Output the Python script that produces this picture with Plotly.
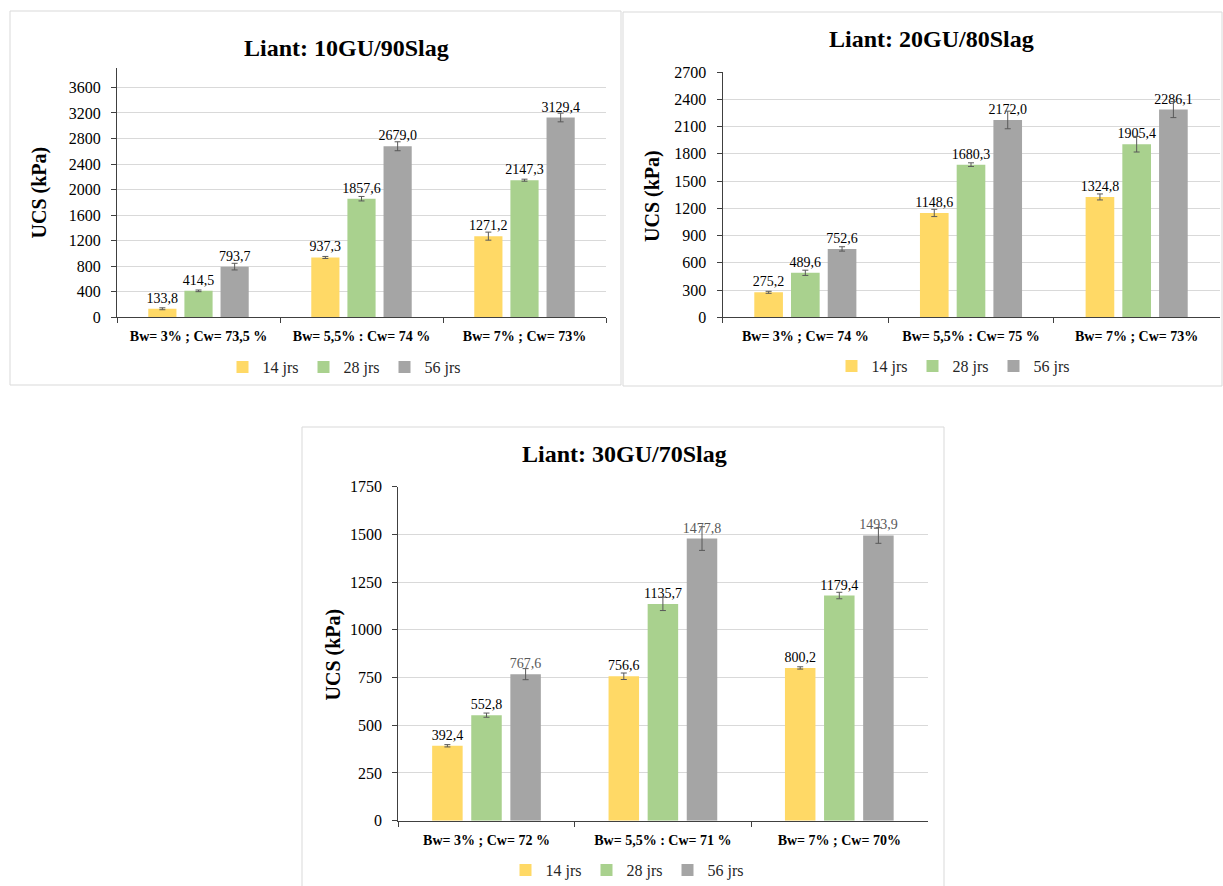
import plotly.graph_objects as go

W, H = 1223, 886

series_names = ["14 jrs", "28 jrs", "56 jrs"]
colors = ["#FFD966", "#A9D18E", "#A5A5A5"]

# Panel 1: Liant 10GU/90Slag
cats1 = ["Bw= 3% ; Cw= 73,5 %", "Bw= 5,5% : Cw= 74 %", "Bw= 7% ; Cw= 73%"]
p1_14 = [133.8, 937.3, 1271.2]
p1_28 = [414.5, 1857.6, 2147.3]
p1_56 = [793.7, 2679.0, 3129.4]
e1_14 = [15, 16, 63]
e1_28 = [13, 35, 16]
e1_56 = [52, 70, 68]

# Panel 2: Liant 20GU/80Slag
cats2 = ["Bw= 3% ; Cw= 74 %", "Bw= 5,5% : Cw= 75 %", "Bw= 7% ; Cw= 73%"]
p2_14 = [275.2, 1148.6, 1324.8]
p2_28 = [489.6, 1680.3, 1905.4]
p2_56 = [752.6, 2172.0, 2286.1]
e2_14 = [11, 40, 33]
e2_28 = [29, 20, 86]
e2_56 = [24, 97, 88]

# Panel 3: Liant 30GU/70Slag
cats3 = ["Bw= 3% ; Cw= 72 %", "Bw= 5,5% : Cw= 71 %", "Bw= 7% ; Cw= 70%"]
p3_14 = [392.4, 756.6, 800.2]
p3_28 = [552.8, 1135.7, 1179.4]
p3_56 = [767.6, 1477.8, 1493.9]
e3_14 = [6, 17, 6]
e3_28 = [11, 35, 17]
e3_56 = [29, 62, 41]

titles = ["Liant: 10GU/90Slag", "Liant: 20GU/80Slag", "Liant: 30GU/70Slag"]

FONT = "Liberation Serif"

panels = [
    dict(cats=cats1, vals=[p1_14, p1_28, p1_56], errs=[e1_14, e1_28, e1_56],
         xr=(117, 606), yr=(317.3, 68.3), yrange=[0, 3900], dtick=400,
         title_xy=(346, 48), ytitle_xy=(39.5, 193), legend_xy=(344, 367),
         label_colors=["#000000", "#000000", "#000000"], box=(10, 11, 621, 385)),
    dict(cats=cats2, vals=[p2_14, p2_28, p2_56], errs=[e2_14, e2_28, e2_56],
         xr=(722.5, 1219.5), yr=(317.3, 72), yrange=[0, 2700], dtick=300,
         title_xy=(931, 39), ytitle_xy=(652, 196), legend_xy=(953, 366),
         label_colors=["#000000", "#000000", "#000000"], box=(623, 12, 1222, 386)),
    dict(cats=cats3, vals=[p3_14, p3_28, p3_56], errs=[e3_14, e3_28, e3_56],
         xr=(398.3, 927.5), yr=(820.7, 486.6), yrange=[0, 1750], dtick=250,
         title_xy=(624, 454), ytitle_xy=(332.5, 655), legend_xy=(627, 870),
         label_colors=["#000000", "#000000", "#595959"], box=(302, 427, 944, 900)),
]

fig = go.Figure()
layout = {}
annotations = []
shapes = []

for i, p in enumerate(panels):
    n = i + 1
    xa = "x" if n == 1 else f"x{n}"
    ya = "y" if n == 1 else f"y{n}"
    leg = "legend" if n == 1 else f"legend{n}"
    for s in range(3):
        fig.add_trace(go.Bar(
            x=p["cats"], y=p["vals"][s], name=series_names[s],
            marker=dict(color=colors[s], line=dict(width=0)),
            error_y=dict(type="data", array=p["errs"][s], visible=True,
                         color="#595959", thickness=1, width=3),
            text=[f"{v:.1f}".replace(".", ",") for v in p["vals"][s]],
            textposition="outside", cliponaxis=False, constraintext="none",
            textfont=dict(family=FONT, size=14, color=p["label_colors"][s]),
            xaxis=xa, yaxis=ya, legend=leg,
        ))
    x0, x1 = p["xr"]
    yb, yt = p["yr"]
    layout[f"xaxis{'' if n == 1 else n}"] = dict(
        domain=[x0 / W, x1 / W], anchor=ya, type="category",
        showline=True, linecolor="#404040", linewidth=1,
        ticks="outside", tickson="boundaries", ticklen=5, tickcolor="#404040",
        tickfont=dict(family=FONT, size=14, color="#000000", weight="bold"),
        ticklabelstandoff=6,
        showgrid=False, fixedrange=True, automargin=False,
    )
    layout[f"yaxis{'' if n == 1 else n}"] = dict(
        domain=[(H - yb) / H, (H - yt) / H], anchor=xa,
        range=p["yrange"], dtick=p["dtick"], tick0=0,
        showline=True, linecolor="#404040", linewidth=1,
        ticks="outside", ticklen=5, tickcolor="#404040",
        tickfont=dict(family=FONT, size=16, color="#000000"),
        ticklabelstandoff=7,
        showgrid=True, gridcolor="#D9D9D9", gridwidth=1,
        zeroline=False, fixedrange=True, automargin=False,
    )
    lx, ly = p["legend_xy"]
    layout[leg] = dict(
        orientation="h", x=lx / W, y=(H - ly) / H, xanchor="center", yanchor="middle",
        font=dict(family=FONT, size=16, color="#262626"),
        itemwidth=30,
        bgcolor="rgba(0,0,0,0)", traceorder="normal",
    )
    tx, ty = p["title_xy"]
    annotations.append(dict(
        text=titles[i], x=tx / W, y=(H - ty) / H, xref="paper", yref="paper",
        xanchor="center", yanchor="middle", showarrow=False,
        font=dict(family=FONT, size=24, color="#000000", weight="bold"),
    ))
    ax_, ay_ = p["ytitle_xy"]
    annotations.append(dict(
        text="UCS (kPa)", x=ax_ / W, y=(H - ay_) / H, xref="paper", yref="paper",
        xanchor="center", yanchor="middle", showarrow=False, textangle=-90,
        font=dict(family=FONT, size=20, color="#000000", weight="bold"),
    ))
    bx0, by0, bx1, by1 = p["box"]
    shapes.append(dict(
        type="rect", xref="paper", yref="paper",
        x0=bx0 / W, x1=bx1 / W, y0=(H - by1) / H, y1=(H - by0) / H,
        line=dict(color="#D9D9D9", width=1), fillcolor="rgba(0,0,0,0)", layer="below",
    ))

fig.update_layout(
    width=W, height=H, margin=dict(l=0, r=0, t=0, b=0, pad=0, autoexpand=False),
    paper_bgcolor="white", plot_bgcolor="rgba(0,0,0,0)",
    barmode="group", bargap=0.335, bargroupgap=0.22,
    annotations=annotations, shapes=shapes,
    font=dict(family=FONT),
    **layout,
)

fig.write_html(
    "out.html",
    config={"displayModeBar": False, "staticPlot": True},
    post_script=(
        "document.documentElement.style.cssText='margin:0;padding:0;overflow:hidden';"
        "document.body.style.cssText='margin:0;padding:0;overflow:hidden';"
    ),
)
